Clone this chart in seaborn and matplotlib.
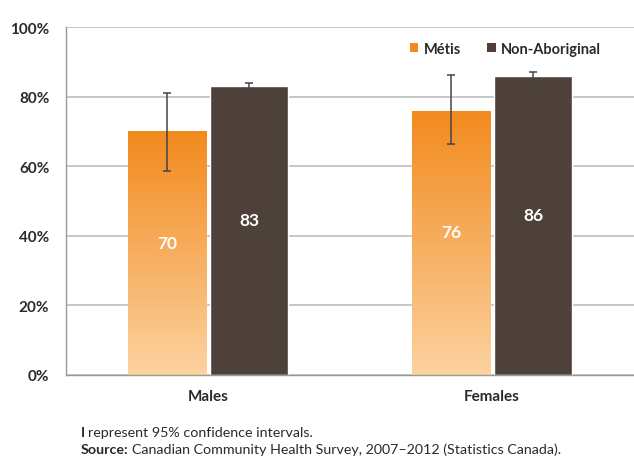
import numpy as np
import pandas as pd
import matplotlib
matplotlib.use("Agg")
import matplotlib.pyplot as plt
import seaborn as sns
from matplotlib.colors import LinearSegmentedColormap
from matplotlib.patches import Patch

# ---- data ----
categories = ["Males", "Females"]
groups = ["Métis", "Non-Aboriginal"]
metis_values = [70, 76]
metis_ci_low = [58.7, 66.5]
metis_ci_high = [81.0, 86.2]
nonab_values = [83, 86]
nonab_ci_low = [81.8, 84.8]
nonab_ci_high = [84.0, 87.2]
yticks = [0, 20, 40, 60, 80, 100]
ytick_labels = ["0%", "20%", "40%", "60%", "80%", "100%"]

df = pd.DataFrame({
    "sex": categories * 2,
    "group": [groups[0]] * 2 + [groups[1]] * 2,
    "value": metis_values + nonab_values,
})
ci_low = {groups[0]: metis_ci_low, groups[1]: nonab_ci_low}
ci_high = {groups[0]: metis_ci_high, groups[1]: nonab_ci_high}
vals = {groups[0]: metis_values, groups[1]: nonab_values}

sns.set_style("white")
plt.rcParams["font.family"] = ["Lato", "DejaVu Sans"]

ORANGE = "#F28A1E"
ORANGE_LIGHT = "#FCD2A0"
BROWN = "#514037"
GRID = "#BEBEBE"
TEXT = "#2A2A2A"
SPINE = "#9A9A9A"
W = "bold"

fig = plt.figure(figsize=(6.34, 4.60), dpi=100)
ax = fig.add_axes([0.104, 0.183, 0.905, 0.756])

sns.barplot(data=df, x="sex", y="value", hue="group", order=categories,
            hue_order=groups, palette=[ORANGE, BROWN], errorbar=None,
            width=0.58, gap=0.05, ax=ax, legend=False, zorder=2)

ax.set_ylim(0, 100)
ax.set_yticks(yticks)
ax.set_yticklabels(ytick_labels, fontsize=11, color=TEXT, weight=W)
ax.yaxis.grid(True, color=GRID, linewidth=1.2, zorder=0)
ax.set_axisbelow(True)
ax.set_xlabel("")
ax.set_ylabel("")
for lbl in ax.get_xticklabels():
    lbl.set_fontsize(11)
    lbl.set_color(TEXT)
    lbl.set_weight(W)
ax.tick_params(axis="x", length=0, pad=10)
ax.tick_params(axis="y", length=4, width=1.0, color=SPINE, direction="out", pad=8)
for s in ["top", "right"]:
    ax.spines[s].set_visible(False)
for s in ["left", "bottom"]:
    ax.spines[s].set_color(SPINE)
    ax.spines[s].set_linewidth(1.0)
ax.set_xticks([0.5], minor=True)
ax.tick_params(axis="x", which="minor", length=4, color=SPINE, direction="out")

cmap = LinearSegmentedColormap.from_list("og", [ORANGE_LIGHT, ORANGE])
grad = np.linspace(0, 1, 256).reshape(-1, 1)

for container, g in zip(ax.containers, groups):
    for i, patch in enumerate(container.patches):
        x0 = patch.get_x()
        w = patch.get_width()
        h = patch.get_height()
        cx = x0 + w / 2
        if g == groups[0]:
            im = ax.imshow(grad, cmap=cmap, origin="lower", aspect="auto",
                           extent=[x0, x0 + w, 0, h], zorder=2.5)
            im.set_clip_path(patch)
        lo = vals[g][i] - ci_low[g][i]
        hi = ci_high[g][i] - vals[g][i]
        ax.errorbar(cx, vals[g][i], yerr=[[lo], [hi]], fmt="none",
                    ecolor="#444444", elinewidth=1.1, capsize=3, capthick=1.1,
                    zorder=4)
        ax.text(cx, vals[g][i] / 2 + 3, f"{vals[g][i]}", ha="center", va="center",
                color="white", fontsize=12.5, weight=W, zorder=5)

ax.set_xlim(-0.5, 1.52)
ax.set_aspect("auto")

handles = [Patch(facecolor=ORANGE, edgecolor="none"),
           Patch(facecolor=BROWN, edgecolor="none")]
leg = ax.legend(handles, groups, loc="upper right", bbox_to_anchor=(0.955, 0.995),
                ncol=2, frameon=False, fontsize=10.5, handlelength=0.6,
                handleheight=0.6, handletextpad=0.35, columnspacing=1.8)
for t in leg.get_texts():
    t.set_color(TEXT)
    t.set_weight(W)

FS = 10.3
fig.text(0.127, 0.050, "I", fontsize=FS, weight="bold", color=TEXT)
fig.text(0.139, 0.050, "represent 95% confidence intervals.", fontsize=FS, color=TEXT)
src = fig.text(0.127, 0.013, "Source:", fontsize=FS, weight="bold", color=TEXT)
fig.canvas.draw()
bb = src.get_window_extent()
x_after = (bb.x1 + 4) / fig.bbox.width
fig.text(x_after, 0.013, "Canadian Community Health Survey, 2007–2012 (Statistics Canada).",
         fontsize=FS, color=TEXT)

fig.savefig("out.png", dpi=100, facecolor="white")
